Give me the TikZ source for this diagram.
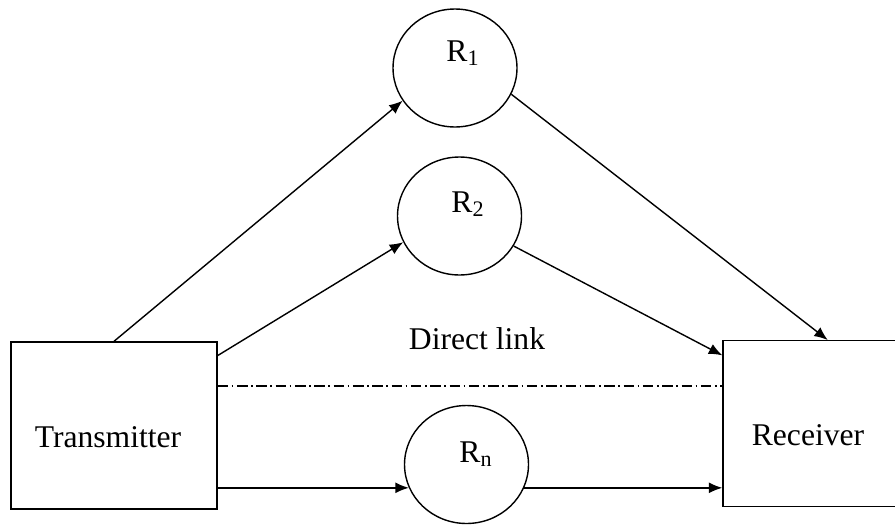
\documentclass[tikz,border=0pt]{standalone}
\usepackage{fontspec}
\setmainfont{Liberation Serif}
\usetikzlibrary{shapes,arrows.meta}

\begin{document}
\begin{tikzpicture}[x=0.02cm,y=-0.02cm,font=\fontsize{18}{20}\selectfont]
\useasboundingbox (0,0) rectangle (895,524);
\tikzset{relay/.style={shape=ellipse,draw=black,line width=0.8pt,minimum width=2.48cm,minimum height=2.36cm,inner sep=0pt},
  endbox/.style={shape=rectangle,draw=black,line width=0.8pt,inner sep=0pt},
  link/.style={-{Latex[length=0.27cm,width=0.22cm]},draw=black,line width=0.8pt}}

\node[endbox,minimum width=4.12cm,minimum height=3.34cm] (tx) at (114,425.5) {};
\node[endbox,minimum width=3.6cm,minimum height=3.32cm] (rx) at (813,423.7) {};
\node[relay] (r1) at (455,68) {};
\node[relay] (r2) at (459.5,216) {};
\node[relay] (rn) at (466.5,464.5) {};

\node (txlabel) at (108,437) {Transmitter};
\node (rxlabel) at (808,435) {Receiver};
\node (r1label) at (463,53) {R\textsubscript{1}};
\node (r2label) at (468,204) {R\textsubscript{2}};
\node (rnlabel) at (476,454) {R\textsubscript{n}};
\node (direct) at (477,339) {Direct link};
\coordinate (dl) at (0,386);

\path (tx.north) edge[link] (r1.212);
\path (tx.34) edge[link] (r2.205);
\path (tx.east |- rn.202) edge[link] (rn.202);
\path (r1.335) edge[link] (rx.80);
\path (r2.331) edge[link] (rx.143);
\path (rn.338) edge[link] (rx.west |- rn.338);
\path [draw=black,line width=0.8pt,dash pattern=on 6pt off 2pt on 1pt off 2pt] (tx.east |- dl) -- (rx.west |- dl);
\end{tikzpicture}
\end{document}
